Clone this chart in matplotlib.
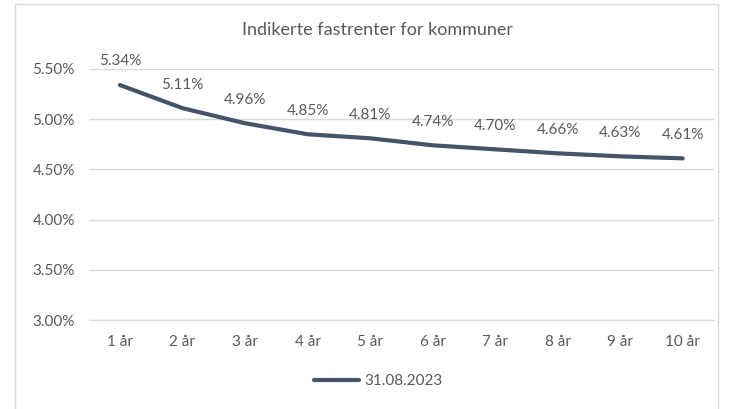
import matplotlib.pyplot as plt
from matplotlib.patches import Rectangle

# data
categories = ["1 år", "2 år", "3 år", "4 år", "5 år", "6 år", "7 år", "8 år", "9 år", "10 år"]
rates = [5.34, 5.11, 4.96, 4.85, 4.81, 4.74, 4.70, 4.66, 4.63, 4.61]
series_name = "31.08.2023"
y_ticks = [3.0, 3.5, 4.0, 4.5, 5.0, 5.5]

text_color = "#595959"
line_color = "#44546A"
plt.rcParams["font.family"] = ["Lato", "DejaVu Sans"]

fig = plt.figure(figsize=(7.37, 4.09), dpi=100)
W, H = 737, 409
ax = fig.add_axes([88.7 / W, 1 - 320 / H, (714 - 88.7) / W, (320 - 69) / H])

# chart border
fig.patches.append(Rectangle((15 / W, -0.05), (718 - 15) / W, 1 - 4 / H + 0.05,
                             transform=fig.transFigure, fill=False,
                             edgecolor="#d9d9d9", linewidth=1))

x = list(range(len(categories)))
ax.plot(x, rates, color=line_color, linewidth=3, solid_capstyle="round",
        label=series_name)
for xi, r in zip(x, rates):
    ax.annotate(f"{r:.2f}%", (xi, r), xytext=(0, 17), textcoords="offset points",
                ha="center", va="center", fontsize=11, color=text_color)

ax.set_xlim(-0.5, len(categories) - 0.5)
ax.set_ylim(3.0, 5.5)
ax.set_yticks(y_ticks)
ax.set_yticklabels([f"{t:.2f}%" for t in y_ticks])
ax.set_xticks(x)
ax.set_xticklabels(categories)
ax.grid(axis="y", color="#d9d9d9", linewidth=1)
ax.set_axisbelow(True)
for s in ["top", "right", "left"]:
    ax.spines[s].set_visible(False)
ax.spines["bottom"].set_color("#d9d9d9")
ax.tick_params(length=0, colors=text_color, labelsize=11)
ax.tick_params(axis="x", pad=11)
ax.tick_params(axis="y", pad=10)

fig.text(378 / W, 1 - 30 / H, "Indikerte fastrenter for kommuner",
         ha="center", va="center", fontsize=13, color=text_color)

leg = fig.legend(loc="center", bbox_to_anchor=(378 / W, 1 - 381 / H), frameon=False,
                 fontsize=11, handlelength=3.0, handletextpad=0.3)
for t in leg.get_texts():
    t.set_color(text_color)

fig.savefig("out.png", dpi=100)
